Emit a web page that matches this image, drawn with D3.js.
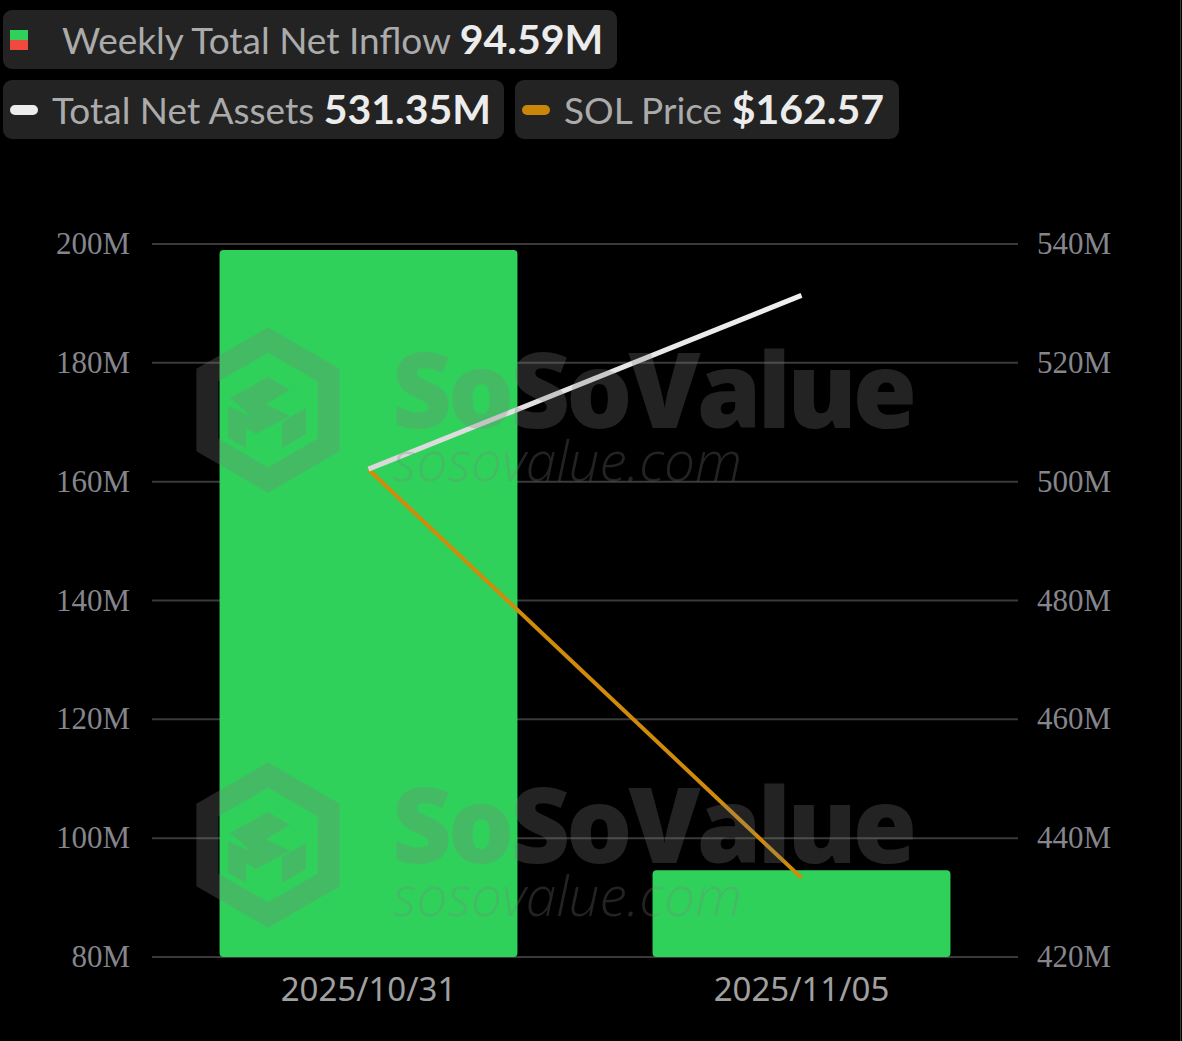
<!DOCTYPE html>
<html><head><meta charset="utf-8">
<script src="https://cdn.jsdelivr.net/npm/d3@7"></script>
<style>html,body{margin:0;padding:0;background:#000;}svg{display:block;}</style>
</head><body>
<svg id="chart" width="1182" height="1041"></svg>
<script>
// ---- data ----
const dates = ["2025/10/31", "2025/11/05"];
const weeklyNetInflow = [199.0, 94.59];      // M USD (left axis)
const totalNetAssets = [502.1, 531.35];      // M USD (right axis)
const solPrice = [187.2, 162.57];            // USD (hidden axis)
const leftTicks = [80, 100, 120, 140, 160, 180, 200];
const rightTicks = [420, 440, 460, 480, 500, 520, 540];
const legendItems = [
  {label: "Weekly Total Net Inflow", value: "94.59M"},
  {label: "Total Net Assets", value: "531.35M"},
  {label: "SOL Price", value: "$162.57"}
];

const svg = d3.select("#chart");
svg.append("rect").attr("width", 1182).attr("height", 1041).attr("fill", "#000");

const plotL = 152, plotR = 1018, plotT = 244, plotB = 957;
const x = d3.scaleBand().domain(dates).range([plotL, plotR]).padding(0);
const yL = d3.scaleLinear().domain([80, 200]).range([plotB, plotT]);
const yR = d3.scaleLinear().domain([420, 540]).range([plotB, plotT]);
const yP = d3.scaleLinear().domain([157.8, 200.8]).range([plotB, plotT]);

// right border line
svg.append("line").attr("x1", 1180.5).attr("x2", 1180.5).attr("y1", 0).attr("y2", 1041)
  .attr("stroke", "#3a3a3a").attr("stroke-width", 1);

// grid lines
svg.append("g").selectAll("line").data(leftTicks).join("line")
  .attr("x1", plotL).attr("x2", plotR)
  .attr("y1", d => yL(d)).attr("y2", d => yL(d))
  .attr("stroke", "#3a3a3a").attr("stroke-width", 2);

// left axis labels
svg.append("g").selectAll("text").data(leftTicks).join("text")
  .attr("x", 130).attr("y", d => yL(d) + 10)
  .attr("text-anchor", "end")
  .attr("font-family", "'Liberation Serif', serif").attr("font-size", 31)
  .attr("fill", "#85858c").text(d => d + "M");

// right axis labels
svg.append("g").selectAll("text").data(rightTicks).join("text")
  .attr("x", 1037).attr("y", d => yR(d) + 10)
  .attr("text-anchor", "start")
  .attr("font-family", "'Liberation Serif', serif").attr("font-size", 31)
  .attr("fill", "#85858c").text(d => d + "M");

// bars
const barW = x.bandwidth() * 0.688;
svg.append("g").selectAll("rect").data(dates).join("rect")
  .attr("x", d => x(d) + (x.bandwidth() - barW) / 2)
  .attr("width", barW)
  .attr("y", (d, i) => yL(weeklyNetInflow[i]))
  .attr("height", (d, i) => yL(80) - yL(weeklyNetInflow[i]))
  .attr("rx", 4).attr("fill", "#2fd15b");

// x labels
svg.append("g").selectAll("text").data(dates).join("text")
  .attr("x", d => x(d) + x.bandwidth() / 2).attr("y", 1001)
  .attr("text-anchor", "middle")
  .attr("font-family", "'Noto Sans', sans-serif").attr("font-size", 33)
  .attr("fill", "#a0a0a0").text(d => d);

// lines
const cx = d => x(d) + x.bandwidth() / 2;
const defs = svg.append("defs");
const grad = defs.append("linearGradient").attr("id", "wg")
  .attr("gradientUnits", "userSpaceOnUse")
  .attr("x1", cx(dates[0])).attr("x2", cx(dates[1])).attr("y1", 0).attr("y2", 0);
grad.append("stop").attr("offset", 0).attr("stop-color", "#d8d8d8");
grad.append("stop").attr("offset", 1).attr("stop-color", "#f0f0f0");

svg.append("path")
  .datum(dates)
  .attr("d", d3.line().x(d => cx(d)).y((d, i) => yP(solPrice[i])))
  .attr("fill", "none").attr("stroke", "#d18b0a").attr("stroke-width", 4);
svg.append("path")
  .datum(dates)
  .attr("d", d3.line().x(d => cx(d)).y((d, i) => yR(totalNetAssets[i])))
  .attr("fill", "none").attr("stroke", "url(#wg)").attr("stroke-width", 5);

// watermark
function watermark(oy) {
  const g = svg.append("g").attr("opacity", 0.27).attr("fill", "#808080");
  const cxl = 268, cyl = 410 + oy, r = 70;
  const hex = d3.range(6).map(k => {
    const a = Math.PI / 3 * k - Math.PI / 2;
    return [cxl + r * Math.cos(a), cyl + r * Math.sin(a)];
  });
  g.append("path").attr("d", "M" + hex.join("L") + "Z")
    .attr("fill", "none").attr("stroke", "#808080").attr("stroke-width", 22);
  g.append("path").attr("d",
    `M${cxl-38},${cyl-12} L${cxl},${cyl-33} L${cxl+22},${cyl-20} L${cxl-2},${cyl-6} L${cxl+22},${cyl+6} L${cxl-12},${cyl+24} L${cxl-22},${cyl+18} L${cxl-22},${cyl+38} L${cxl-40},${cyl+28} L${cxl-40},${cyl-4} L${cxl-18},${cyl+6} L${cxl-26},${cyl-2} Z`);
  g.append("path").attr("d",
    `M${cxl+14},${cyl+12} L${cxl+38},${cyl-2} L${cxl+38},${cyl+24} L${cxl+14},${cyl+38} Z`);
  const t = g.append("text")
    .attr("font-family", "'Open Sans', sans-serif");
  t.append("tspan").attr("x", 392).attr("y", 428 + oy)
    .attr("font-weight", 800).attr("font-size", 104).attr("letter-spacing", -4).text("SoSoValue");
  t.append("tspan").attr("x", 393).attr("y", 481 + oy)
    .attr("font-style", "italic").attr("font-weight", 300).attr("font-size", 55)
    .attr("letter-spacing", 0).text("sosovalue.com");
}
watermark(0);
watermark(435);

// legend
function legendBox(bx, by, bw, item, iconType) {
  const g = svg.append("g");
  g.append("rect").attr("x", bx).attr("y", by).attr("width", bw).attr("height", 59)
    .attr("rx", 9).attr("fill", "#232323");
  let tx;
  if (iconType === "bar") {
    g.append("rect").attr("x", bx + 7).attr("y", by + 20).attr("width", 18).attr("height", 10).attr("fill", "#2fd15b");
    g.append("rect").attr("x", bx + 7).attr("y", by + 30).attr("width", 18).attr("height", 10).attr("fill", "#f04a3e");
    tx = bx + 59;
  } else {
    g.append("rect").attr("x", bx + 7).attr("y", by + 25).attr("width", 28).attr("height", 10)
      .attr("rx", 5).attr("fill", iconType);
    tx = bx + 49;
  }
  const t = g.append("text").attr("x", tx).attr("y", by + 44)
    .attr("font-family", "Lato, sans-serif").attr("font-size", 37);
  t.append("tspan").attr("fill", "#ababab").text(item.label + " ");
  t.append("tspan").attr("fill", "#ececec").attr("font-weight", 700)
    .attr("font-size", 41).text(item.value);
}
legendBox(3, 10, 614, legendItems[0], "bar");
legendBox(3, 80, 501, legendItems[1], "#ececec");
legendBox(515, 80, 384, legendItems[2], "#c8870a");
</script>
</body></html>
